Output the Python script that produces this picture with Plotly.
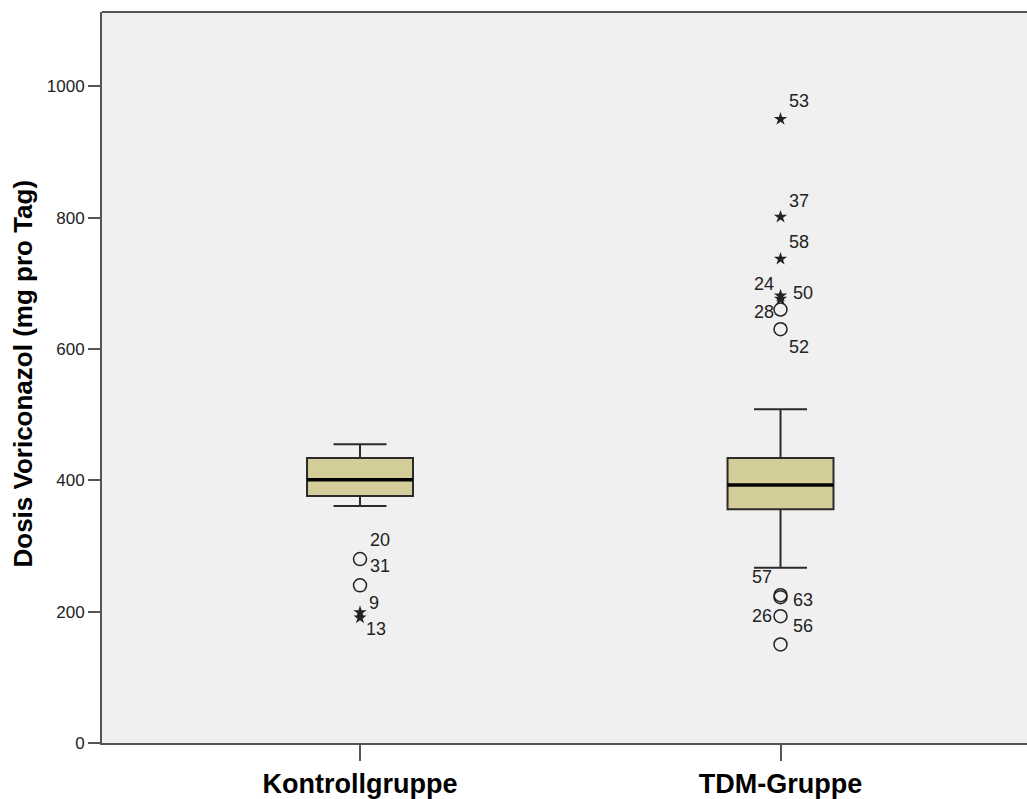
import plotly.graph_objects as go

# ---- data ----
categories = ["Kontrollgruppe", "TDM-Gruppe"]
q1 = [376, 356]
median = [401, 393]
q3 = [434, 434]
lower_whisker = [361, 267]
upper_whisker = [455, 508]

# outliers: group index, value, case label, kind
out_group = [0, 0, 0, 0,
             1, 1, 1, 1, 1, 1, 1,
             1, 1, 1, 1]
out_value = [280, 240, 199, 191,
             950, 801, 737, 681, 676, 660, 630,
             225, 222, 193, 150]
out_label = ["20", "31", "9", "13",
             "53", "37", "58", "24", "50", "28", "52",
             "57", "63", "26", "56"]
out_kind = ["circle", "circle", "star", "star",
            "star", "star", "star", "star", "star", "circle", "circle",
            "circle", "circle", "circle", "circle"]

y_ticks = [0, 200, 400, 600, 800, 1000]

# label placement (pixel offsets: dx, dy, anchor) - styling only
label_style = [(8, 19, "left"), (8, 19, "left"), (7, 9, "left"), (4, -11, "left"),
               (6, 18, "left"), (6, 16, "left"), (6, 17, "left"), (-5, 12, "right"),
               (10, 6, "left"), (-5, -2, "right"), (6, -18, "left"),
               (-7, 18, "right"), (10, -3, "left"), (-7, 0, "right"), (10, 18, "left")]

BOX_W = 0.252
FILL = "#D3CE99"
LINE = "#2b2b2b"
FONT = "Liberation Sans, Arial, sans-serif"

fig = go.Figure()
for i, cat in enumerate(categories):
    fig.add_trace(go.Box(
        x=[i], q1=[q1[i]], median=[median[i]], q3=[q3[i]],
        lowerfence=[lower_whisker[i]], upperfence=[upper_whisker[i]],
        width=BOX_W, whiskerwidth=0.5, fillcolor=FILL,
        line=dict(color=LINE, width=2), boxpoints=False,
        showlegend=False, hoverinfo="skip", name=cat))
    # thicker median line
    fig.add_trace(go.Scatter(
        x=[i - BOX_W / 2, i + BOX_W / 2], y=[median[i], median[i]],
        mode="lines", line=dict(color="#000000", width=3.5),
        showlegend=False, hoverinfo="skip"))

for kind, sym, size in [("circle", "circle-open", 13), ("star", "star", 10)]:
    xs = [g for g, k in zip(out_group, out_kind) if k == kind]
    ys = [v for v, k in zip(out_value, out_kind) if k == kind]
    fig.add_trace(go.Scatter(
        x=xs, y=ys, mode="markers",
        marker=dict(symbol=sym, size=size, color="#222222",
                    line=dict(color="#222222", width=1.5 if kind == "circle" else 0)),
        showlegend=False, hoverinfo="skip"))

for g, v, lab, (dx, dy, anc) in zip(out_group, out_value, out_label, label_style):
    fig.add_annotation(x=g, y=v, text=lab, showarrow=False,
                       xshift=dx, yshift=dy, xanchor=anc, yanchor="middle",
                       font=dict(family=FONT, size=18, color="#222222"))

PLOT_W = 1027 - 102
fig.add_annotation(xref="paper", yref="paper", x=-79 / PLOT_W, y=(746 - 375) / 734,
                   text="Dosis Voriconazol (mg pro Tag)", textangle=-90,
                   showarrow=False, xanchor="center", yanchor="middle",
                   font=dict(family=FONT, size=26, color="#000000", weight="bold"))

# top frame line of the plot area
fig.add_shape(type="line", xref="paper", yref="paper", x0=0, x1=1, y0=1, y1=1,
              line=dict(color="#555555", width=2))

fig.update_layout(
    width=1027, height=799,
    margin=dict(l=102, r=0, t=12, b=53, pad=0),
    paper_bgcolor="#ffffff", plot_bgcolor="#F0F0F0",
    xaxis=dict(range=[-0.6136, 1.5862], tickvals=list(range(len(categories))),
               ticktext=categories, showgrid=False, zeroline=False,
               showline=True, linecolor="#555555", linewidth=2, mirror=False,
               ticks="outside", ticklen=16, tickwidth=2, tickcolor="#555555",
               tickfont=dict(family=FONT, size=27, color="#000000", weight="bold")),
    yaxis=dict(range=[0, 1113], tickvals=y_ticks, showgrid=False, zeroline=False,
               showline=True, linecolor="#555555", linewidth=2, mirror=False,
               ticks="outside", ticklen=12, tickwidth=2, tickcolor="#555555",
               tickfont=dict(family=FONT, size=17, color="#222222")),
)

fig.write_html("out.html")
